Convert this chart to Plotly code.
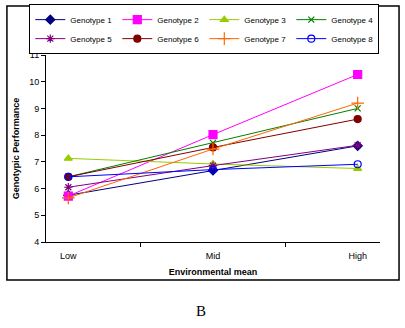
import plotly.graph_objects as go

environments = ["Low", "Mid", "High"]
genotype_names = ["Genotype 1", "Genotype 2", "Genotype 3", "Genotype 4",
                  "Genotype 5", "Genotype 6", "Genotype 7", "Genotype 8"]
g1 = [5.75, 6.68, 7.6]
g2 = [5.72, 8.02, 10.27]
g3 = [7.13, 6.92, 6.75]
g4 = [6.44, 7.71, 9.0]
g5 = [6.05, 6.86, 7.62]
g6 = [6.44, 7.54, 8.6]
g7 = [5.65, 7.48, 9.2]
g8 = [6.44, 6.71, 6.91]
series = [g1, g2, g3, g4, g5, g6, g7, g8]

colors = ["#000080", "#FF00FF", "#99CC00", "#008000",
          "#800080", "#800000", "#FF6600", "#0000FF"]
symbols = ["diamond", "square", "triangle-up", "x-thin-open",
           "asterisk-open", "circle", "cross-thin-open", "circle-open"]
sizes = [7, 8, 7, 6, 7, 7, 9, 7]

fig = go.Figure()
for name, vals, c, s, sz in zip(genotype_names, series, colors, symbols, sizes):
    fig.add_trace(go.Scatter(
        x=environments, y=vals, name=name, mode="lines+markers",
        line=dict(color=c, width=1),
        marker=dict(symbol=s, size=sz, color=c, line=dict(color=c, width=1.2)),
    ))

font = "Liberation Sans, Arial, sans-serif"
fig.update_layout(
    width=405, height=328,
    margin=dict(l=46, r=25, t=55, b=86, autoexpand=False),
    paper_bgcolor="white", plot_bgcolor="white",
    font=dict(family=font, size=9, color="black"),
    showlegend=True,
    legend=dict(
        orientation="h", x=-0.05, y=1.272, xanchor="left", yanchor="top",
        bordercolor="black", borderwidth=1, bgcolor="white",
        font=dict(size=8, family=font),
        entrywidth=42, entrywidthmode="pixels",
        tracegroupgap=0, itemwidth=30,
    ),
    xaxis=dict(
        type="category", showline=True, linecolor="black", linewidth=1,
        ticks="outside", tickson="boundaries", ticklen=4, tickcolor="black",
        showgrid=False, zeroline=False, ticklabelstandoff=5,
        title=dict(text="<b>Environmental mean</b>", standoff=8, font=dict(size=9)),
        tickfont=dict(size=9),
    ),
    yaxis=dict(
        range=[4, 11], dtick=1, showline=True, linecolor="black", linewidth=1,
        ticks="outside", ticklen=4, tickcolor="black",
        showgrid=False, zeroline=False,
        title=dict(text="<b>Genotypic Performance</b>", standoff=8, font=dict(size=9)),
        tickfont=dict(size=9),
    ),
    shapes=[dict(type="rect", xref="paper", yref="paper",
                 x0=-0.117, x1=1.057, y0=-0.203, y1=1.262,
                 line=dict(color="black", width=1.5), fillcolor="rgba(0,0,0,0)",
                 layer="below")],
    annotations=[dict(text="B", xref="paper", yref="paper", x=0.465, y=-0.37,
                      showarrow=False, xanchor="center", yanchor="middle",
                      font=dict(family="Liberation Serif, Times New Roman, serif", size=15))],
)
fig.update_yaxes(range=[4, 11], autorange=False)
fig.write_html("out.html")
